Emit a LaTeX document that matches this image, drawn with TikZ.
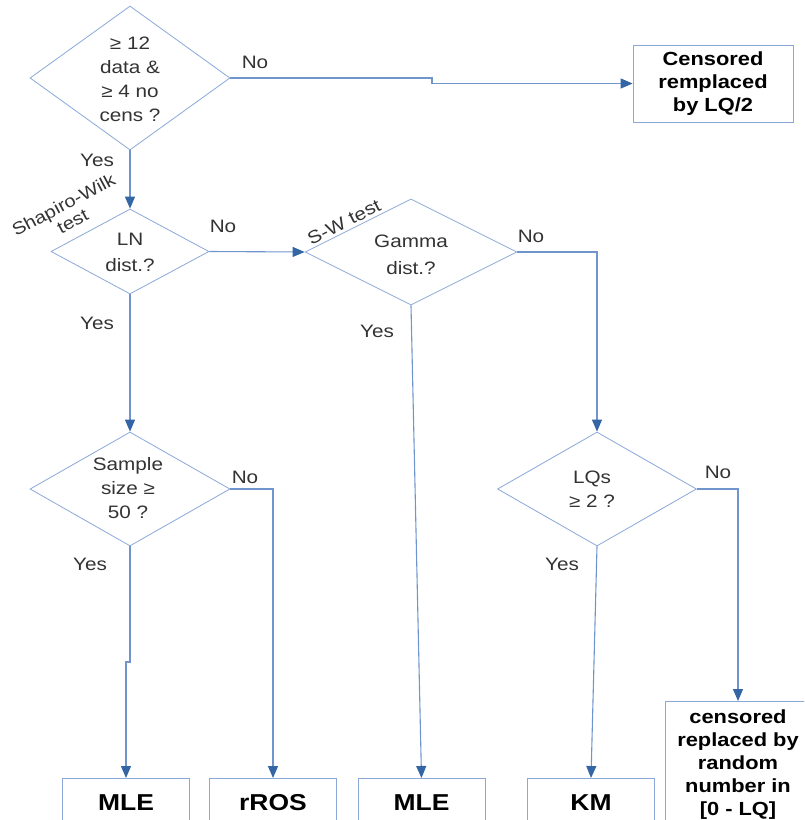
\documentclass[tikz,border=0pt]{standalone}
\usepackage{fontspec}
\setmainfont[FakeStretch=1.15]{Liberation Sans}
\usetikzlibrary{shapes.geometric,arrows.meta}
\definecolor{lineblue}{HTML}{6F95CC}
\definecolor{tipblue}{HTML}{3465A4}
\definecolor{edgeblue}{HTML}{8AA8D8}
\definecolor{txt}{HTML}{333333}
\begin{document}
\begin{tikzpicture}[x=1pt,y=-1pt,
  dia/.style={diamond, draw=edgeblue, line width=0.8pt, inner sep=0pt},
  dtext/.style={text=txt, font=\fontsize{18}{24}\selectfont, align=center, inner sep=0pt},
  box/.style={rectangle, draw=edgeblue, line width=0.8pt, inner sep=0pt, align=center, font=\bfseries\fontsize{19}{23}\selectfont},
  bigbox/.style={box, font=\bfseries\fontsize{23}{27}\selectfont, anchor=north, minimum width=127pt, minimum height=48pt},
  conn/.style={draw=lineblue, line width=1.1pt, -{Triangle[length=12pt,width=10pt,color=tipblue]}},
  lbl/.style={text=txt, font=\fontsize{18}{22}\selectfont, inner sep=0pt}
]
\useasboundingbox (0,0) rectangle (804,820);
\clip (0,0) rectangle (804,820);

% diamonds
\node[dia, minimum width=200pt, minimum height=144pt] (d1) at (130,78) {};
\node[dtext] (t1) at (130,79) {≥ 12\\data \&\\≥ 4 no\\cens ?};
\node[dia, minimum width=158pt, minimum height=85pt] (d2) at (130,251.5) {};
\node[dtext] (t2) at (130,252) {LN\\[2pt]dist.?};
\node[dia, minimum width=212pt, minimum height=106pt] (d3) at (411,252) {};
\node[dtext] (t3) at (411,254.5) {Gamma\\[3pt]dist.?};
\node[dia, minimum width=200pt, minimum height=114pt] (d4) at (130,489) {};
\node[dtext] (t4) at (128,488.5) {Sample\\size ≥\\50 ?};
\node[dia, minimum width=199pt, minimum height=114pt] (d5) at (597,489) {};
\node[dtext] (t5) at (592,489) {LQs\\≥ 2 ?};

% boxes
\node[box, minimum width=160pt, minimum height=77pt] (b0) at (713,83.5) {Censored\\remplaced\\by LQ/2};
\node[bigbox] (m1) at (126,778) {MLE};
\node[bigbox] (r1) at (273,778) {rROS};
\node[bigbox] (m2) at (421.5,778) {MLE};
\node[bigbox] (k1) at (591,778) {KM};
\node[box, anchor=north, minimum width=146pt, minimum height=126pt] (c1) at (738,701) {censored\\replaced by\\random\\number in\\ {[0 - LQ]}};

% connectors
\draw[conn] (d1.east) -- (432,78) -- (432,83.5) -- (b0.west);
\draw[conn] (d1.south) -- (d2.north);
\draw[conn] (d2.east) -- (d3.west);
\draw[conn] (d3.east) -| (d5.north);
\draw[conn] (d3.south) -- (m2.north);
\draw[conn] (d2.south) -- (d4.north);
\draw[conn] (d4.east) -| (r1.north);
\draw[conn] (d4.south) -- (130,662) -| (m1.north);
\draw[conn] (d5.east) -| (c1.north);
\draw[conn] (d5.south) -- (k1.north);

% labels
\node[lbl] (n1) at (255,62) {No};
\node[lbl] (y1) at (97,160) {Yes};
\node[lbl] (n2) at (223,226) {No};
\node[lbl] (y2) at (97,323) {Yes};
\node[lbl] (n3) at (531,236) {No};
\node[lbl] (y3) at (377,331) {Yes};
\node[lbl] (n4) at (245,477) {No};
\node[lbl] (y4) at (90,564) {Yes};
\node[lbl] (n5) at (718,472) {No};
\node[lbl] (y5) at (562,564) {Yes};
\node[lbl, font=\fontsize{17.5}{19}\selectfont, rotate=28, align=center] (sw1) at (68,213) {Shapiro-Wilk\\test};
\node[lbl, font=\fontsize{18}{20}\selectfont, rotate=27] (sw2) at (344,222) {S-W test};
\end{tikzpicture}
\end{document}
